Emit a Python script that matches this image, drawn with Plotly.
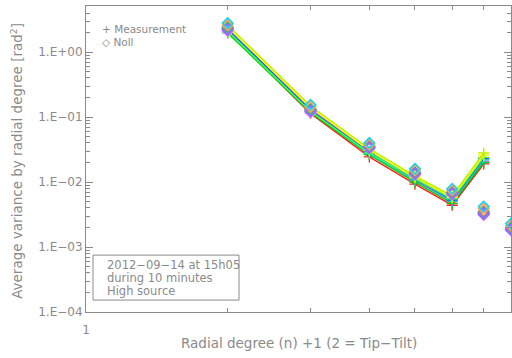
import plotly.graph_objects as go

# Radial degree (n) + 1
degree_meas = [2, 3, 4, 5, 6, 7]
degree_noll = [2, 3, 4, 5, 6, 7, 8]

# one line per acquisition (measured variance, rad^2)
measurement = [
    [2.05, 0.114, 0.0245, 0.0093, 0.0044, 0.0190],
    [2.20, 0.136, 0.0285, 0.0106, 0.0050, 0.0210],
    [1.98, 0.118, 0.0265, 0.0100, 0.0047, 0.0200],
    [2.12, 0.124, 0.0275, 0.0107, 0.0051, 0.0220],
    [2.30, 0.128, 0.0290, 0.0110, 0.0053, 0.0230],
    [2.08, 0.122, 0.0282, 0.0112, 0.0055, 0.0240],
    [2.45, 0.140, 0.0310, 0.0119, 0.0058, 0.0260],
    [2.60, 0.148, 0.0325, 0.0124, 0.0061, 0.0280],
]

# Noll theoretical variances for the same acquisitions
noll = [
    [2.10, 0.118, 0.0330, 0.0130, 0.0065, 0.0031, 0.00180],
    [2.30, 0.128, 0.0345, 0.0137, 0.0068, 0.0033, 0.00190],
    [2.20, 0.122, 0.0335, 0.0133, 0.0066, 0.0032, 0.00185],
    [2.40, 0.132, 0.0355, 0.0141, 0.0070, 0.0035, 0.00200],
    [2.35, 0.130, 0.0350, 0.0139, 0.0069, 0.0034, 0.00195],
    [2.25, 0.125, 0.0340, 0.0135, 0.0067, 0.0033, 0.00188],
    [2.60, 0.145, 0.0380, 0.0152, 0.0075, 0.0039, 0.00215],
    [2.80, 0.155, 0.0400, 0.0160, 0.0079, 0.0042, 0.00230],
]

series_colors = ["#ff2020", "#ff40ff", "#00d000", "#00e0e0",
                 "#2060ff", "#40ff40", "#ffff00", "#c0f000"]

y_tickvals = [1e-4, 1e-3, 1e-2, 1e-1, 1e0]
y_ticktext = ["1.E\u221204", "1.E\u221203", "1.E\u221202", "1.E\u221201", "1.E+00"]

info_lines = ["2012\u221209\u221214 at 15h05", "during 10 minutes", "High source"]

GRAY = "#8a8a8a"
FONT = "DejaVu Sans"

fig = go.Figure()

for vals, col in zip(measurement, series_colors):
    fig.add_trace(go.Scatter(x=degree_meas, y=vals, mode="lines+markers",
                             line=dict(color=col, width=1.5),
                             marker=dict(symbol="cross-thin-open", size=8,
                                         line=dict(color=col, width=1.3)),
                             cliponaxis=False, showlegend=False))

for vals, col in zip(noll, series_colors):
    fig.add_trace(go.Scatter(x=degree_noll, y=vals, mode="markers",
                             marker=dict(symbol="diamond-open", size=8,
                                         line=dict(color=col, width=1.6)),
                             cliponaxis=False, showlegend=False))

minor_y = [m * 10 ** e for e in range(-4, 1) for m in range(2, 10)]

fig.update_xaxes(type="log", range=[0, 0.9031], automargin=False,
                 tickmode="array", tickvals=[1], ticktext=["1"],
                 ticks="inside", ticklen=6, tickcolor=GRAY,
                 ticklabelstandoff=7,
                 minor=dict(tickmode="array", tickvals=[2, 3, 4, 5, 6, 7],
                            ticks="inside", ticklen=4, tickcolor=GRAY),
                 showline=True, linecolor=GRAY, linewidth=1, mirror="allticks",
                 showgrid=False, zeroline=False,
                 tickfont=dict(family=FONT, size=12, color=GRAY))

fig.update_yaxes(type="log", range=[-4, 0.71], automargin=False,
                 tickmode="array", tickvals=y_tickvals, ticktext=y_ticktext,
                 ticks="inside", ticklen=7, tickcolor=GRAY,
                 minor=dict(tickmode="array", tickvals=minor_y,
                            ticks="inside", ticklen=4, tickcolor=GRAY),
                 showline=True, linecolor=GRAY, linewidth=1, mirror="allticks",
                 showgrid=False, zeroline=False,
                 tickfont=dict(family=FONT, size=12, color=GRAY))

# axis titles
fig.add_annotation(xref="paper", yref="paper", x=0.50, y=-0.102,
                   xanchor="center", yanchor="middle", showarrow=False,
                   text="Radial degree (n) +1 (2 = Tip\u2212Tilt)",
                   font=dict(family=FONT, size=13.5, color=GRAY))
fig.add_annotation(xref="paper", yref="paper", x=-0.163, y=0.493,
                   xanchor="center", yanchor="middle", showarrow=False,
                   textangle=-90,
                   text="Average variance by radial degree [rad<sup>2</sup>]",
                   font=dict(family=FONT, size=13.5, color=GRAY))

# legend drawn as plain text, like the original
fig.add_annotation(xref="paper", yref="paper", x=0.033, y=0.925,
                   xanchor="left", yanchor="middle", showarrow=False,
                   text="+ Measurement",
                   font=dict(family=FONT, size=10.5, color=GRAY))
fig.add_annotation(xref="paper", yref="paper", x=0.033, y=0.882,
                   xanchor="left", yanchor="middle", showarrow=False,
                   text="\u25c7 Noll",
                   font=dict(family=FONT, size=10.5, color=GRAY))

# info box, bottom left
fig.add_shape(type="rect", xref="paper", yref="paper",
              x0=0.0165, x1=0.36, y0=0.039, y1=0.186,
              line=dict(color=GRAY, width=1), fillcolor="white")
for i, line in enumerate(info_lines):
    fig.add_annotation(xref="paper", yref="paper", x=0.045,
                       y=0.154 - i * 0.043,
                       xanchor="left", yanchor="middle", showarrow=False,
                       text=line,
                       font=dict(family=FONT, size=11.5, color=GRAY))

fig.update_layout(width=512, height=358,
                  margin=dict(l=86, r=1, t=6, b=46),
                  paper_bgcolor="white", plot_bgcolor="white")

fig.write_html("out.html", config={"displayModeBar": False},
               post_script="document.body.style.margin='0';")
